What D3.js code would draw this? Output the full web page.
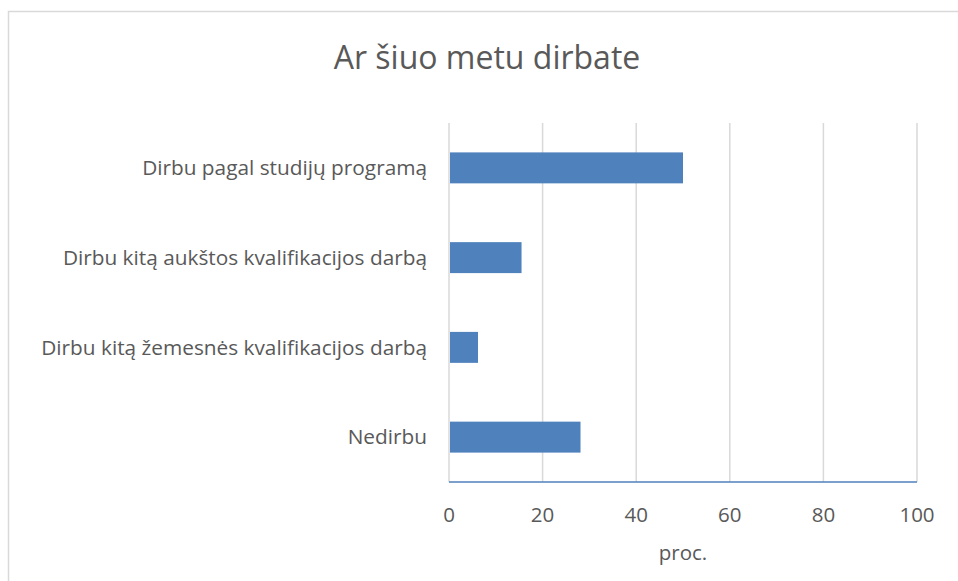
<!DOCTYPE html>
<html>
<head>
<meta charset="utf-8">
<script src="https://cdn.jsdelivr.net/npm/d3@7"></script>
<style>
  body { margin: 0; background: #fff; }
  text { font-family: "Open Sans", "Noto Sans", sans-serif; fill: #595959; }
</style>
</head>
<body>
<div id="chart"></div>
<script>
var categories = [
  "Dirbu pagal studijų programą",
  "Dirbu kitą aukštos kvalifikacijos darbą",
  "Dirbu kitą žemesnės kvalifikacijos darbą",
  "Nedirbu"
];
var values = [50, 15.5, 6.2, 28.1];
var xTicks = [0, 20, 40, 60, 80, 100];
var title = "Ar šiuo metu dirbate";
var xTitle = "proc.";

var props = {
  width : 958,
  height : 581,
  left : 449,
  right : 917,
  top : 123,
  bottom : 482
};

var svg = d3.select("#chart").append("svg")
  .attr("width", props.width)
  .attr("height", props.height);

// chart frame
svg.append("rect")
  .attr("x", 8.5).attr("y", 11.5)
  .attr("width", 980).attr("height", 600)
  .style("fill", "none")
  .style("stroke", "#d9d9d9")
  .style("stroke-width", 1.5);

var x = d3.scaleLinear().domain([0, 100]).range([props.left, props.right]);
var y = d3.scaleBand().domain(categories).range([props.top, props.bottom]).paddingInner(0.655).paddingOuter(0.3275);

// gridlines
svg.append("g").selectAll("line")
  .data(xTicks)
  .enter().append("line")
  .attr("x1", function(d){ return x(d); })
  .attr("x2", function(d){ return x(d); })
  .attr("y1", props.top)
  .attr("y2", props.bottom)
  .style("stroke", "#d9d9d9")
  .style("stroke-width", 1.5);

svg.append("g").selectAll("rect")
  .data(values)
  .enter().append("rect")
  .attr("x", x(0) + 1)
  .attr("y", function(d, i){ return y(categories[i]); })
  .attr("width", function(d){ return x(d) - x(0) - 1; })
  .attr("height", y.bandwidth())
  .style("fill", "#4f81bd");

// axis line
svg.append("line")
  .attr("x1", x(0)).attr("x2", x(100))
  .attr("y1", props.bottom).attr("y2", props.bottom)
  .style("stroke", "#4f81bd")
  .style("stroke-width", 1.5);

// x tick labels
svg.append("g").selectAll("text")
  .data(xTicks)
  .enter().append("text")
  .attr("x", function(d){ return x(d); })
  .attr("y", 522)
  .attr("text-anchor", "middle")
  .style("font-size", "20.5px")
  .text(function(d){ return d; });

// category labels
svg.append("g").selectAll("text")
  .data(categories)
  .enter().append("text")
  .attr("x", props.left - 22)
  .attr("y", function(d){ return y(d) + y.bandwidth() / 2; })
  .attr("dy", "0.35em")
  .attr("text-anchor", "end")
  .style("font-size", "20.8px")
  .text(function(d){ return d; });

svg.append("text")
  .attr("x", 487).attr("y", 69)
  .attr("text-anchor", "middle")
  .style("font-size", "32px")
  .text(title);

svg.append("text")
  .attr("x", 683).attr("y", 560)
  .attr("text-anchor", "middle")
  .style("font-size", "20.5px")
  .text(xTitle);
</script>
</body>
</html>
